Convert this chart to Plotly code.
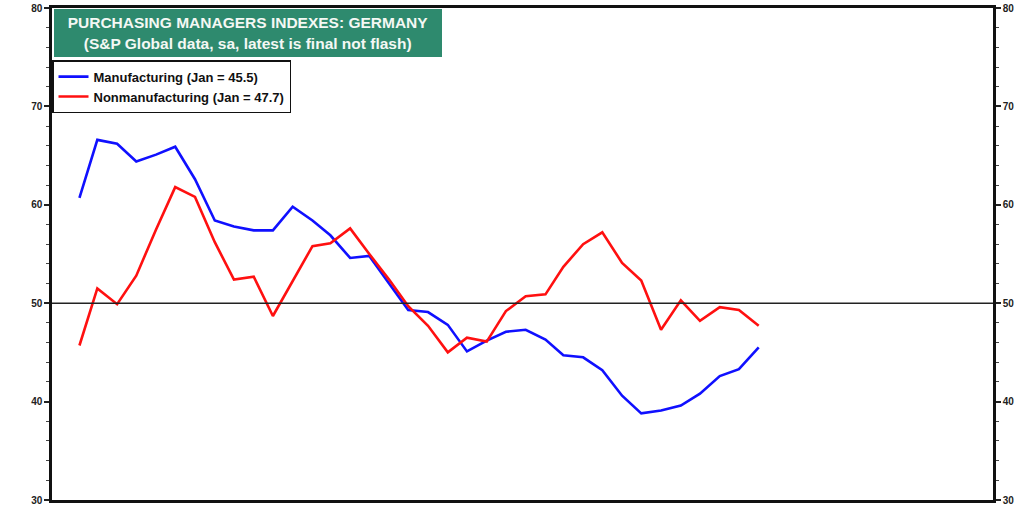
import plotly.graph_objects as go
import pandas as pd

months = pd.date_range("2021-02-01", "2024-01-01", freq="MS")
manufacturing = [60.7, 66.6, 66.2, 64.4, 65.1, 65.9, 62.6, 58.4, 57.8, 57.4, 57.4,
                 59.8, 58.4, 56.9, 54.6, 54.8, 52.0, 49.3, 49.1, 47.8, 45.1, 46.2,
                 47.1, 47.3, 46.3, 44.7, 44.5, 43.2, 40.6, 38.8, 39.1, 39.6, 40.8,
                 42.6, 43.3, 45.5]
nonmanufacturing = [45.7, 51.5, 49.9, 52.8, 57.5, 61.8, 60.8, 56.2, 52.4, 52.7, 48.7,
                    52.2, 55.8, 56.1, 57.6, 55.0, 52.4, 49.7, 47.7, 45.0, 46.5, 46.1,
                    49.2, 50.7, 50.9, 53.7, 56.0, 57.2, 54.1, 52.3, 47.3, 50.3, 48.2,
                    49.6, 49.3, 47.7]
series_names = ["Manufacturing (Jan = 45.5)", "Nonmanufacturing (Jan = 47.7)"]
title_lines = ["PURCHASING MANAGERS INDEXES: GERMANY",
               "(S&P Global data, sa, latest is final not flash)"]
y_ticks = [30, 40, 50, 60, 70, 80]

FONT = "Liberation Sans, Arial, sans-serif"

fig = go.Figure()
fig.add_trace(go.Scatter(x=months, y=manufacturing, mode="lines", name=series_names[0],
                         line=dict(color="#1010ff", width=2.6)))
fig.add_trace(go.Scatter(x=months, y=nonmanufacturing, mode="lines", name=series_names[1],
                         line=dict(color="#ff1010", width=2.6)))
# invisible copy on the right-hand axis so that it is drawn with its labels
fig.add_trace(go.Scatter(x=months, y=manufacturing, mode="lines", yaxis="y2",
                         line=dict(width=0, color="rgba(0,0,0,0)"), showlegend=False,
                         hoverinfo="skip"))

axis_common = dict(range=[30, 80], tickvals=y_ticks, ticks="outside", ticklen=5,
                   tickwidth=1.5, tickcolor="#222", showgrid=False, zeroline=False,
                   automargin=False,
                   tickfont=dict(family=FONT, size=10, color="#222", weight="bold"),
                   minor=dict(dtick=2, ticks="outside", ticklen=3, tickcolor="#444", tickwidth=1),
                   showline=True, linecolor="#111", linewidth=2.5)

fig.update_layout(
    width=1023, height=507,
    margin=dict(l=52, r=30, t=8, b=7),
    paper_bgcolor="white", plot_bgcolor="white",
    xaxis=dict(range=["2020-12-20", "2025-01-02"], showticklabels=False, showgrid=False,
               zeroline=False, showline=True, linecolor="#111", linewidth=2.5,
               mirror=True, ticks="", automargin=False),
    yaxis=dict(**axis_common, side="left"),
    yaxis2=dict(**axis_common, side="right", overlaying="y", anchor="x"),
    showlegend=True,
    legend=dict(x=0.0, y=0.894, xanchor="left", yanchor="top",
                bgcolor="white", bordercolor="#111", borderwidth=1.5,
                font=dict(family=FONT, size=13, color="#111", weight="bold"),
                tracegroupgap=0, itemwidth=30, traceorder="normal"),
    shapes=[dict(type="line", xref="paper", yref="y", x0=0, x1=1, y0=50, y1=50,
                 line=dict(color="#222", width=1.5))],
    annotations=[dict(xref="paper", yref="paper", x=0.0025, y=0.998, xanchor="left", yanchor="top",
                      text="<b>" + title_lines[0] + "</b><br><b>" + title_lines[1] + "</b>",
                      showarrow=False, align="center", bgcolor="#2e8a6e",
                      font=dict(family=FONT, size=15.5, color="#f4f8f4"),
                      width=382, height=42, borderpad=2, bordercolor="#2e8a6e")],
)
fig.write_html("out.html", config={"displayModeBar": False},
               post_script="document.body.style.margin='0';")
